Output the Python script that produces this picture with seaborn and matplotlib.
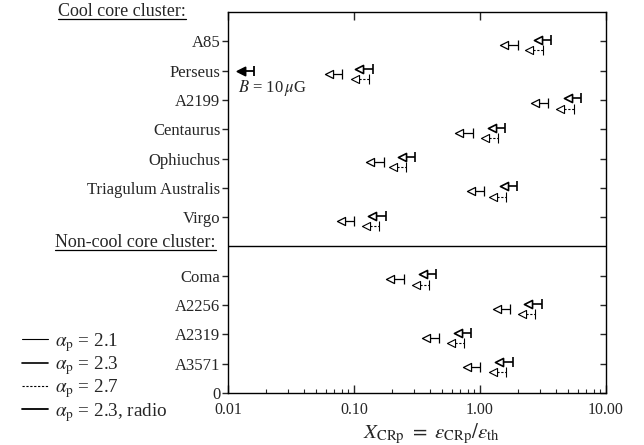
import numpy as np
import pandas as pd
import seaborn as sns
import matplotlib.pyplot as plt
from matplotlib.lines import Line2D
from matplotlib.ticker import LogLocator, NullFormatter


# upper limits on X_CRp
cool = ["A85", "Perseus", "A2199", "Centaurus", "Ophiuchus",
        "Triagulum Australis", "Virgo"]
noncool = ["Coma", "A2256", "A2319", "A3571"]
clusters = cool + noncool

x_a21 = [1.99, 0.081, 3.48, 0.875, 0.172, 1.08, 0.1005, 0.248, 1.74, 0.476, 1.005]
x_a23 = [3.66, 0.141, 6.34, 1.58, 0.305, 1.97, 0.179, 0.448, 3.10, 0.849, 1.82]
x_a27 = [3.16, 0.131, 5.54, 1.40, 0.259, 1.61, 0.159, 0.396, 2.75, 0.751, 1.61]
radio_cluster = ["Perseus"]
x_radio = [0.0161]

series_labels = [r"$\alpha_{\rm p}$ = 2.1", r"$\alpha_{\rm p}$ = 2.3",
                 r"$\alpha_{\rm p}$ = 2.7", r"$\alpha_{\rm p}$ = 2.3, radio"]


sns.set_style("ticks")
plt.rcParams["font.family"] = ["Liberation Serif", "DejaVu Serif"]
plt.rcParams["mathtext.fontset"] = "stix"

# row positions: cool core on top, a gap line, non-cool below
ypos = {}
for i, c in enumerate(cool):
    ypos[c] = 12 - i
for i, c in enumerate(noncool):
    ypos[c] = 4 - i

fig = plt.figure(figsize=(6.44, 4.45), dpi=100)
ax = fig.add_axes([228 / 644, 1 - 393 / 445, 378 / 644, 381 / 445])

styles = [
    # values, y offset, linestyle, linewidth, face
    (x_a21, -0.12, "-", 0.9, "white", clusters),
    (x_a23, 0.05, "-", 1.2, "white", clusters),
    (x_a27, -0.30, (0, (2, 1.5)), 0.8, "white", clusters),
    (x_radio, 0.0, "-", 1.3, "black", radio_cluster),
]

for vals, dy, ls, lw, face, names in styles:
    df = pd.DataFrame({"cluster": names, "value": vals})
    df["y"] = df["cluster"].map(ypos) + dy
    df["head"] = df["value"] / 10 ** 0.107
    # shaft
    ax.hlines(df["y"], df["head"], df["value"], colors="black",
              linestyles=ls, linewidth=lw)
    # bar at the limit
    sns.scatterplot(data=df, x="value", y="y", marker="|", s=45,
                    color="black", linewidth=lw, ax=ax, zorder=3)
    # arrow head
    sns.scatterplot(data=df, x="head", y="y", marker="<", s=34,
                    facecolor=face, edgecolor="black", linewidth=lw,
                    ax=ax, zorder=4)

ax.axhline(5, color="black", lw=1)

ax.set_xscale("log")
ax.set_xlim(0.01, 10)
ax.set_ylim(0, 13)
ax.set_xticks([0.01, 0.1, 1, 10])
ax.set_xticklabels(["0.01", "0.10", "1.00", "10.00"])
ax.xaxis.set_minor_locator(LogLocator(base=10, subs=np.arange(2, 10)))
ax.xaxis.set_minor_formatter(NullFormatter())
ax.set_yticks([ypos[c] for c in clusters] + [0])
ax.set_yticklabels(clusters + ["0"])

ax.tick_params(axis="x", which="major", direction="in", length=6, top=True,
               labelsize=11.5, pad=6.5, width=1)
ax.tick_params(axis="x", which="minor", direction="in", length=3, top=False,
               width=0.8)
ax.tick_params(axis="y", which="major", direction="out", length=4,
               labelsize=12, pad=1.5, width=1)
ax.tick_params(axis="y", which="major", right=True)
for t in ax.yaxis.get_major_ticks():
    t.tick2line.set_marker(0)  # inward on right
for sp in ax.spines.values():
    sp.set_linewidth(1)
    sp.set_color("black")

ax.set_xlabel(r"$X_{\rm CRp}\ =\ \varepsilon_{\rm CRp}/\varepsilon_{\rm th}$",
              fontsize=15)
ax.xaxis.set_label_coords(0.538, -0.075)
ax.set_ylabel("")

ax.text(0.026, 0.80, r"$B$ = 10$\,\mu$G", transform=ax.transAxes,
        fontsize=12, va="center", ha="left")

# headings with underline
h1 = fig.text(58 / 644, 1 - 16 / 445, "Cool core cluster:", fontsize=13,
              va="baseline", ha="left")
h2 = fig.text(55 / 644, 1 - 246.5 / 445, "Non-cool core cluster:",
              fontsize=13, va="baseline", ha="left")
fig.canvas.draw()
inv = fig.transFigure.inverted()
for h, yline in [(h1, 18.5), (h2, 249.5)]:
    bb = h.get_window_extent().transformed(inv)
    fig.add_artist(Line2D([bb.x0, bb.x1], [1 - yline / 445] * 2,
                          color="black", lw=0.9, transform=fig.transFigure))

handles = [Line2D([], [], color="black", lw=0.8, ls="-"),
           Line2D([], [], color="black", lw=1.2, ls="-"),
           Line2D([], [], color="black", lw=0.8, ls=(0, (2, 1.5))),
           Line2D([], [], color="black", lw=1.3, ls="-")]
fig.legend(handles, series_labels, loc="upper left",
           bbox_to_anchor=(22 / 644, 1 - 331 / 445), frameon=False,
           fontsize=13.8, handlelength=1.37, handletextpad=0.35,
           labelspacing=0.02, borderpad=0, borderaxespad=0)

fig.savefig("out.png", dpi=100)
